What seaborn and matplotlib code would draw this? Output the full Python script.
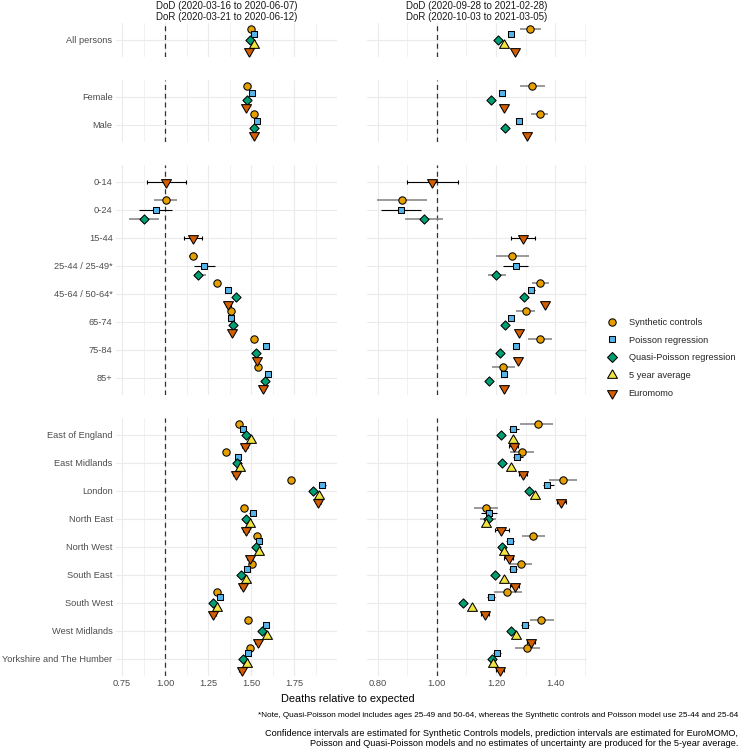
import numpy as np
import pandas as pd
import matplotlib
matplotlib.use("Agg")
import matplotlib.pyplot as plt
import seaborn as sns
from matplotlib.lines import Line2D

nan = np.nan

# ---------------- data ----------------
categories = ["All persons",
              "Female", "Male",
              "0-14", "0-24", "15-44", "25-44 / 25-49*", "45-64 / 50-64*", "65-74", "75-84", "85+",
              "East of England", "East Midlands", "London", "North East", "North West",
              "South East", "South West", "West Midlands", "Yorkshire and The Humber"]
category_group = ["All"] + ["Sex"] * 2 + ["Age"] * 8 + ["Region"] * 9
facet_groups = ["All", "Sex", "Age", "Region"]
models = ["Synthetic controls", "Poisson regression", "Quasi-Poisson regression",
          "5 year average", "Euromomo"]
period_titles = ["DoD (2020-03-16 to 2020-06-07)\nDoR (2020-03-21 to 2020-06-12)",
                 "DoD (2020-09-28 to 2021-02-28)\nDoR (2020-10-03 to 2021-03-05)"]
x_ticks_p1 = [0.75, 1.00, 1.25, 1.50, 1.75]
x_ticks_p2 = [0.80, 1.00, 1.20, 1.40]

# ---- Period 1 (first wave) estimates ----
p1_sc = [1.498, 1.479, 1.519, nan, 1.004, nan, 1.161, 1.304, 1.384, 1.519, 1.539,
         1.432, 1.355, 1.731, 1.461, 1.533, 1.504, 1.300, 1.481, 1.494]
p1_po = [1.519, 1.504, 1.533, nan, 0.946, nan, 1.229, 1.368, 1.384, 1.585, 1.601,
         1.455, 1.422, 1.915, 1.510, 1.547, 1.475, 1.320, 1.585, 1.481]
p1_qp = [1.494, 1.475, 1.519, nan, 0.878, nan, 1.194, 1.411, 1.397, 1.529, 1.581,
         1.471, 1.417, 1.862, 1.469, 1.529, 1.442, 1.277, 1.566, 1.455]
p1_5y = [1.519, nan, nan, nan, nan, nan, nan, nan, nan, nan, nan,
         1.498, 1.436, 1.897, 1.494, 1.549, 1.469, 1.300, 1.591, 1.475]
p1_eu = [1.488, 1.469, 1.517, 1.006, nan, 1.165, nan, 1.368, 1.391, 1.533, 1.568,
         1.465, 1.411, 1.891, 1.471, 1.494, 1.452, 1.281, 1.539, 1.446]

p1_sc_lo = [nan, nan, nan, nan, 0.938, nan, 1.140, nan, nan, nan, nan,
            nan, nan, nan, nan, nan, nan, nan, nan, nan]
p1_sc_hi = [nan, nan, nan, nan, 1.068, nan, 1.190, nan, nan, nan, nan,
            nan, nan, nan, nan, nan, nan, nan, nan, nan]
p1_po_lo = [nan, nan, nan, nan, 0.851, nan, 1.170, 1.350, nan, nan, nan,
            1.440, 1.405, 1.895, 1.490, 1.530, nan, nan, 1.570, nan]
p1_po_hi = [nan, nan, nan, nan, 1.039, nan, 1.292, 1.385, nan, nan, nan,
            1.470, 1.440, 1.935, 1.530, 1.565, nan, nan, 1.600, nan]
p1_qp_lo = [nan, nan, nan, nan, 0.789, nan, 1.170, nan, nan, nan, nan,
            1.455, 1.400, 1.845, 1.450, 1.515, 1.428, 1.262, 1.552, 1.440]
p1_qp_hi = [nan, nan, nan, nan, 0.967, nan, 1.240, nan, nan, nan, nan,
            1.487, 1.434, 1.879, 1.488, 1.543, 1.456, 1.292, 1.580, 1.470]
p1_eu_lo = [nan, nan, nan, 0.894, nan, 1.112, nan, 1.352, nan, nan, nan,
            1.450, 1.396, 1.876, 1.455, 1.479, 1.437, 1.266, 1.524, 1.431]
p1_eu_hi = [nan, nan, nan, 1.122, nan, 1.217, nan, 1.384, nan, nan, nan,
            1.480, 1.426, 1.906, 1.487, 1.509, 1.467, 1.296, 1.554, 1.461]

# ---- Period 2 (second wave) estimates ----
p2_sc = [1.315, 1.322, 1.347, nan, 0.881, nan, 1.255, 1.347, 1.302, 1.347, 1.223,
         1.341, 1.288, 1.425, 1.165, 1.324, 1.283, 1.238, 1.350, 1.305]
p2_po = [1.251, 1.221, 1.279, nan, 0.880, nan, 1.266, 1.319, 1.251, 1.268, 1.226,
         1.257, 1.271, 1.373, 1.175, 1.248, 1.257, 1.182, 1.299, 1.204]
p2_qp = [1.207, 1.182, 1.231, nan, 0.957, nan, 1.201, 1.294, 1.231, 1.214, 1.176,
         1.215, 1.221, 1.310, 1.171, 1.221, 1.195, 1.089, 1.251, 1.186]
p2_5y = [1.226, nan, nan, nan, nan, nan, nan, nan, nan, nan, nan,
         1.257, 1.251, 1.332, 1.167, 1.226, 1.226, 1.120, 1.266, 1.190]
p2_eu = [1.265, 1.227, 1.304, 0.984, nan, 1.291, nan, 1.364, 1.279, 1.274, 1.226,
         1.259, 1.291, 1.420, 1.218, 1.242, 1.263, 1.162, 1.319, 1.214]

p2_sc_lo = [1.281, 1.282, 1.319, nan, 0.799, nan, 1.201, 1.322, 1.268, 1.307, 1.186,
            1.282, 1.246, 1.378, 1.126, 1.289, 1.246, 1.193, 1.313, 1.263]
p2_sc_hi = [1.352, 1.364, 1.375, nan, 0.965, nan, 1.310, 1.378, 1.333, 1.390, 1.263,
            1.392, 1.328, 1.472, 1.206, 1.364, 1.322, 1.289, 1.394, 1.347]
p2_po_lo = [nan, nan, nan, nan, 0.811, nan, 1.223, 1.308, nan, nan, nan,
            1.242, 1.256, 1.358, 1.150, 1.235, 1.245, 1.170, 1.285, 1.190]
p2_po_hi = [nan, nan, nan, nan, 0.946, nan, 1.309, 1.330, nan, nan, nan,
            1.277, 1.290, 1.395, 1.203, 1.260, 1.270, 1.195, 1.312, 1.218]
p2_qp_lo = [nan, nan, nan, nan, 0.892, nan, 1.171, nan, nan, nan, nan,
            nan, nan, nan, 1.145, nan, nan, nan, nan, nan]
p2_qp_hi = [nan, nan, nan, nan, 1.021, nan, 1.232, nan, nan, nan, nan,
            nan, nan, nan, 1.198, nan, nan, nan, nan, nan]
p2_eu_lo = [nan, nan, nan, 0.898, nan, 1.251, nan, nan, nan, nan, nan,
            1.245, 1.276, 1.405, 1.195, 1.228, 1.248, 1.148, 1.305, 1.200]
p2_eu_hi = [nan, nan, nan, 1.072, nan, 1.332, nan, nan, nan, nan, nan,
            1.273, 1.306, 1.435, 1.242, 1.256, 1.278, 1.176, 1.333, 1.228]

# ---------------- long table ----------------
period_data = [
    {"Synthetic controls": (p1_sc, p1_sc_lo, p1_sc_hi),
     "Poisson regression": (p1_po, p1_po_lo, p1_po_hi),
     "Quasi-Poisson regression": (p1_qp, p1_qp_lo, p1_qp_hi),
     "5 year average": (p1_5y, [nan] * 20, [nan] * 20),
     "Euromomo": (p1_eu, p1_eu_lo, p1_eu_hi)},
    {"Synthetic controls": (p2_sc, p2_sc_lo, p2_sc_hi),
     "Poisson regression": (p2_po, p2_po_lo, p2_po_hi),
     "Quasi-Poisson regression": (p2_qp, p2_qp_lo, p2_qp_hi),
     "5 year average": (p2_5y, [nan] * 20, [nan] * 20),
     "Euromomo": (p2_eu, p2_eu_lo, p2_eu_hi)},
]
rows = []
for p, pdict in enumerate(period_data):
    for m in models:
        est, lo, hi = pdict[m]
        for i, cat in enumerate(categories):
            rows.append(dict(period=p, category=cat, group=category_group[i],
                             model=m, est=est[i], lo=lo[i], hi=hi[i]))
df = pd.DataFrame(rows).dropna(subset=["est"]).reset_index(drop=True)

# y position: category index within facet + dodge (width 1) across present models
df["cat_idx"] = df.apply(
    lambda r: [c for c, g in zip(categories, category_group) if g == r.group].index(r.category),
    axis=1)
df["morder"] = df["model"].map({m: i for i, m in enumerate(models)})
df = df.sort_values(["period", "category", "morder"]).reset_index(drop=True)
df["k"] = df.groupby(["period", "category"]).cumcount()
df["n"] = df.groupby(["period", "category"])["model"].transform("count")
df["y"] = df["cat_idx"] - 0.5 + (df["k"] + 0.5) / df["n"]

# ---------------- style ----------------
colors = {"Synthetic controls": "#E69F00", "Poisson regression": "#56B4E9",
          "Quasi-Poisson regression": "#009E73", "5 year average": "#F0E442",
          "Euromomo": "#D55E00"}
tri_up = [(0, 1), (-0.866, -0.5), (0.866, -0.5), (0, 1)]
tri_dn = [(0, -1), (-0.866, 0.5), (0.866, 0.5), (0, -1)]
markers = {"Synthetic controls": "o", "Poisson regression": "s",
           "Quasi-Poisson regression": "D", "5 year average": tri_up, "Euromomo": tri_dn}
d = 5.3
msize = {"Synthetic controls": d, "Poisson regression": 0.886 * d,
         "Quasi-Poisson regression": 0.886 * d, "5 year average": 1.555 * d,
         "Euromomo": 1.555 * d}
ci_style = {"Synthetic controls": ("#7F7F7F", 1.1, 0),
            "Poisson regression": ("#000000", 0.8, 0),
            "Quasi-Poisson regression": ("#7F7F7F", 1.1, 0),
            "5 year average": ("#000000", 0.8, 0),
            "Euromomo": ("#000000", 0.8, 0.16)}

sns.set_theme(style="white")
plt.rcParams["font.family"] = ["Liberation Sans", "DejaVu Sans"]

W, H = 742, 750
fig = plt.figure(figsize=(W / 100, H / 100), dpi=100)
col_x = [(116, 337), (367, 587)]
xlims = [(0.715, 2.0), (0.764, 1.507)]
xticks = [x_ticks_p1, x_ticks_p2]
xminor = [[0.875, 1.125, 1.375, 1.625, 1.875], [0.9, 1.1, 1.3, 1.5]]
row_tops = [23, 80, 165, 418]
unit = 28.0

for r, g in enumerate(facet_groups):
    cats = [c for c, gg in zip(categories, category_group) if gg == g]
    n = len(cats)
    h = (n + 0.2) * unit
    for c in range(2):
        x0, x1 = col_x[c]
        ax = fig.add_axes([x0 / W, 1 - (row_tops[r] + h) / H, (x1 - x0) / W, h / H])
        sub = df[(df.period == c) & (df.group == g)]
        ax.axvline(1.0, color="#333333", lw=0.9, ls=(0, (4, 3)), zorder=1.5)
        for m in models:
            sm = sub[sub.model == m]
            col, lw, cap = ci_style[m]
            ci = sm.dropna(subset=["lo"])
            if len(ci):
                ax.hlines(ci["y"], ci["lo"], ci["hi"], color=col, lw=lw, zorder=2)
                if cap > 0:
                    ax.vlines(ci["lo"], ci["y"] - cap / 2, ci["y"] + cap / 2, color=col, lw=lw, zorder=2)
                    ax.vlines(ci["hi"], ci["y"] - cap / 2, ci["y"] + cap / 2, color=col, lw=lw, zorder=2)
            if len(sm):
                sns.scatterplot(data=sm, x="est", y="y", marker=markers[m], color=colors[m],
                                s=msize[m] ** 2, edgecolor="black", linewidth=0.75,
                                ax=ax, legend=False, zorder=3)
        ax.set_xlim(*xlims[c])
        ax.set_ylim(n - 1 + 0.6, -0.6)
        ax.set_xticks(xticks[c])
        ax.set_xticks(xminor[c], minor=True)
        ax.set_yticks(range(n))
        ax.grid(which="major", color="#EBEBEB", lw=0.8)
        ax.grid(which="minor", axis="x", color="#EBEBEB", lw=0.5)
        ax.set_axisbelow(True)
        for s in ax.spines.values():
            s.set_visible(False)
        ax.tick_params(which="both", length=0, labelsize=6.7, labelcolor="#4D4D4D", pad=2.5)
        ax.set_xlabel("")
        ax.set_ylabel("")
        if c == 0:
            ax.set_yticklabels(cats)
        else:
            ax.set_yticklabels([])
        if r == len(facet_groups) - 1:
            ax.set_xticklabels([f"{t:.2f}" for t in xticks[c]])
        else:
            ax.set_xticklabels([])
        if r == 0:
            ax.set_title(period_titles[c], fontsize=7, color="#1A1A1A", pad=2.5, linespacing=1.1)

handles = [Line2D([0], [0], marker=markers[m], color="none", markerfacecolor=colors[m],
                  markeredgecolor="black", markeredgewidth=0.75, markersize=msize[m])
           for m in models]
fig.legend(handles, models, loc="center left", bbox_to_anchor=(602 / W, 1 - 358 / H),
           frameon=False, fontsize=6.7, handlelength=1.2, handletextpad=1.15,
           labelspacing=0.95, borderpad=0)

fig.text(348 / W, 1 - 699 / H, "Deaths relative to expected", ha="center", va="center",
         fontsize=7.9, color="black")
fig.text(738 / W, 1 - 715.5 / H,
         "*Note, Quasi-Poisson model includes ages 25-49 and 50-64, whereas the Synthetic controls and Poisson model use 25-44 and 25-64",
         ha="right", va="center", fontsize=5.85, color="black")
fig.text(738 / W, 1 - 733 / H,
         "Confidence intervals are estimated for Synthetic Controls models, prediction intervals are estimated for EuroMOMO,",
         ha="right", va="center", fontsize=6.6, color="black")
fig.text(738 / W, 1 - 744 / H,
         "Poisson and Quasi-Poisson models and no estimates of uncertainty are produced for the 5-year average.",
         ha="right", va="center", fontsize=6.6, color="black")

fig.savefig("out.png", dpi=100, facecolor="white")
